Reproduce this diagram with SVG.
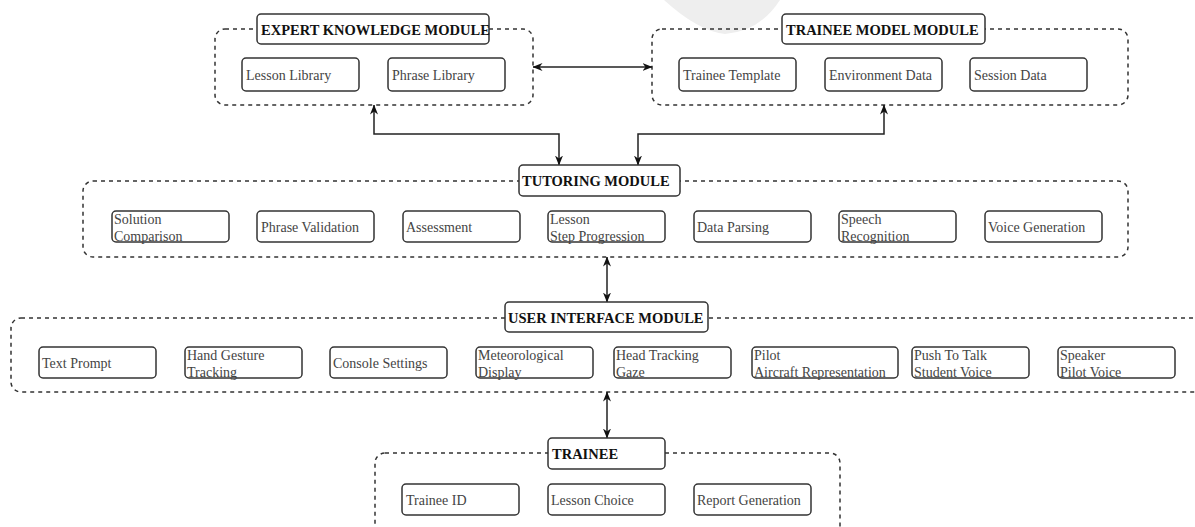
<svg xmlns="http://www.w3.org/2000/svg" width="1195" height="527" viewBox="0 0 1195 527">
<style>
.bg{fill:#ffffff}
.wm{fill:#eeeeee}
.cont{fill:none;stroke:#333;stroke-width:1.5;stroke-dasharray:4 4}
.box{fill:#ffffff;stroke:#333;stroke-width:1.5}
.t{font-family:"Liberation Serif","Times New Roman",serif;font-size:14px;fill:#444}
.h{font-family:"Liberation Serif","Times New Roman",serif;font-size:14.5px;font-weight:bold;fill:#111}
.conn{fill:none;stroke:#222;stroke-width:1.5;marker-start:url(#arr);marker-end:url(#arr)}
</style>
<defs>
<marker id="arr" viewBox="0 0 10 8" refX="9.5" refY="4" markerWidth="10" markerHeight="8" markerUnits="userSpaceOnUse" orient="auto-start-reverse">
<path d="M0,0 L10,4 L0,8 L3,4 Z" fill="#111"/>
</marker>
</defs>
<rect class="bg" x="0" y="0" width="1195" height="527"/>
<path class="wm" d="M664,0 L780,0 Q760,31 725,34 Q698,31 664,0 Z"/>

<g id="containers">
<rect class="cont" x="215" y="29" width="318" height="76" rx="10"/>
<rect class="cont" x="652" y="29" width="476" height="76" rx="10"/>
<rect class="cont" x="83" y="181" width="1045" height="76" rx="10"/>
<rect class="cont" x="11" y="318" width="1200" height="74" rx="10"/>
<rect class="cont" x="375" y="453" width="465" height="90" rx="10"/>
</g>

<g id="connectors">
<path class="conn" d="M533,67 L652,67"/>
<path class="conn" d="M374,105 L374,134 L559,134 L559,165"/>
<path class="conn" d="M638,165 L638,134 L884,134 L884,105"/>
<path class="conn" d="M607,257 L607,302"/>
<path class="conn" d="M607,392 L607,438"/>
</g>

<g id="expert-knowledge-module">
<rect class="box" x="257" y="14" width="232" height="30" rx="4"/>
<text class="h" x="261" y="34.5">EXPERT KNOWLEDGE MODULE</text>
</g>
<g id="lesson-library"><rect class="box" x="242" y="58" width="117" height="33" rx="4"/><text class="t" x="246" y="79.5">Lesson Library</text></g>
<g id="phrase-library"><rect class="box" x="388" y="58" width="117" height="33" rx="4"/><text class="t" x="392" y="79.5">Phrase Library</text></g>

<g id="trainee-model-module">
<rect class="box" x="782" y="14" width="203" height="30" rx="4"/>
<text class="h" x="786" y="34.5">TRAINEE MODEL MODULE</text>
</g>
<g id="trainee-template"><rect class="box" x="679" y="58" width="117" height="33" rx="4"/><text class="t" x="683" y="79.5">Trainee Template</text></g>
<g id="environment-data"><rect class="box" x="825" y="58" width="117" height="33" rx="4"/><text class="t" x="829" y="79.5">Environment Data</text></g>
<g id="session-data"><rect class="box" x="970" y="58" width="117" height="33" rx="4"/><text class="t" x="974" y="79.5">Session Data</text></g>

<g id="tutoring-module">
<rect class="box" x="519" y="165" width="161" height="31" rx="4"/>
<text class="h" x="522" y="186">TUTORING MODULE</text>
</g>
<g id="solution-comparison"><rect class="box" x="112" y="211" width="117" height="31" rx="4"/><text class="t" x="114" y="224">Solution</text><text class="t" x="114" y="241">Comparison</text></g>
<g id="phrase-validation"><rect class="box" x="257" y="211" width="117" height="31" rx="4"/><text class="t" x="261" y="231.5">Phrase Validation</text></g>
<g id="assessment"><rect class="box" x="403" y="211" width="117" height="31" rx="4"/><text class="t" x="406" y="231.5">Assessment</text></g>
<g id="lesson-step-progression"><rect class="box" x="548" y="211" width="117" height="31" rx="4"/><text class="t" x="550" y="224">Lesson</text><text class="t" x="550" y="241">Step Progression</text></g>
<g id="data-parsing"><rect class="box" x="694" y="211" width="117" height="31" rx="4"/><text class="t" x="697" y="231.5">Data Parsing</text></g>
<g id="speech-recognition"><rect class="box" x="839" y="211" width="117" height="31" rx="4"/><text class="t" x="841" y="224">Speech</text><text class="t" x="841" y="241">Recognition</text></g>
<g id="voice-generation"><rect class="box" x="985" y="211" width="117" height="31" rx="4"/><text class="t" x="988" y="231.5">Voice Generation</text></g>

<g id="user-interface-module">
<rect class="box" x="505" y="302" width="203" height="30" rx="4"/>
<text class="h" x="508" y="322.5">USER INTERFACE MODULE</text>
</g>
<g id="text-prompt"><rect class="box" x="39" y="347" width="117" height="31" rx="4"/><text class="t" x="42" y="367.5">Text Prompt</text></g>
<g id="hand-gesture-tracking"><rect class="box" x="185" y="347" width="117" height="31" rx="4"/><text class="t" x="187" y="360">Hand Gesture</text><text class="t" x="187" y="377">Tracking</text></g>
<g id="console-settings"><rect class="box" x="330" y="347" width="117" height="31" rx="4"/><text class="t" x="333" y="367.5">Console Settings</text></g>
<g id="meteorological-display"><rect class="box" x="476" y="347" width="117" height="31" rx="4"/><text class="t" x="478" y="360">Meteorological</text><text class="t" x="478" y="377">Display</text></g>
<g id="head-tracking-gaze"><rect class="box" x="614" y="347" width="117" height="31" rx="4"/><text class="t" x="616" y="360">Head Tracking</text><text class="t" x="616" y="377">Gaze</text></g>
<g id="pilot-aircraft-representation"><rect class="box" x="752" y="347" width="146" height="31" rx="4"/><text class="t" x="754" y="360">Pilot</text><text class="t" x="754" y="377">Aircraft Representation</text></g>
<g id="push-to-talk-student-voice"><rect class="box" x="912" y="347" width="117" height="31" rx="4"/><text class="t" x="914" y="360">Push To Talk</text><text class="t" x="914" y="377">Student Voice</text></g>
<g id="speaker-pilot-voice"><rect class="box" x="1058" y="347" width="117" height="31" rx="4"/><text class="t" x="1060" y="360">Speaker</text><text class="t" x="1060" y="377">Pilot Voice</text></g>

<g id="trainee">
<rect class="box" x="548" y="438" width="117" height="31" rx="4"/>
<text class="h" x="552" y="458.5">TRAINEE</text>
</g>
<g id="trainee-id"><rect class="box" x="402" y="484" width="117" height="31" rx="4"/><text class="t" x="406" y="504.5">Trainee ID</text></g>
<g id="lesson-choice"><rect class="box" x="548" y="484" width="117" height="31" rx="4"/><text class="t" x="551" y="504.5">Lesson Choice</text></g>
<g id="report-generation"><rect class="box" x="694" y="484" width="117" height="31" rx="4"/><text class="t" x="697" y="504.5">Report Generation</text></g>
</svg>
